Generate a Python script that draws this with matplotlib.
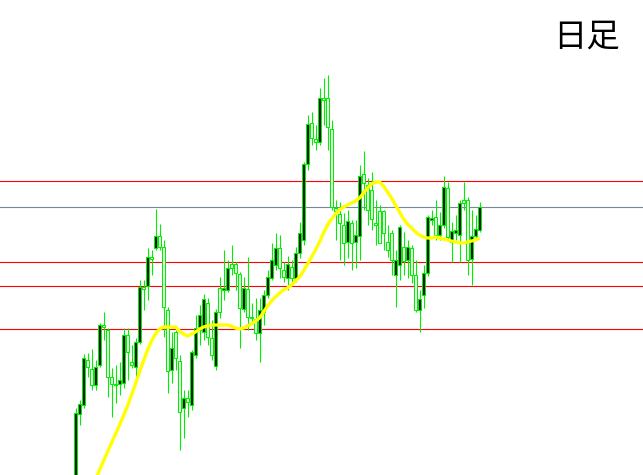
import matplotlib.pyplot as plt

# daily candles, price units (chart scale 0..475)
opens = [-15, 61, 70, 115, 106, 90, 110, 150, 145, 98, 91, 91, 92, 140, 113, 108,
         133, 188, 189, 218, 227, 239, 228, 165, 105, 143, 114, 67, 77, 70, 120, 145,
         143, 172, 137, 109, 187, 185, 185, 211, 211, 201, 166, 186, 158, 156, 142, 163,
         180, 197, 210, 227, 205, 197, 208, 197, 222, 235, 311, 352, 336, 333, 377, 377,
         346, 267, 261, 250, 233, 252, 233, 239, 301, 290, 285, 252, 264, 264, 233, 242,
         200, 210, 228, 215, 227, 200, 165, 180, 202, 255, 258, 240, 250, 287, 233, 242,
         240, 275, 275, 216, 239, 245]
highs = [67, 75, 121, 122, 126, 115, 152, 163, 147, 107, 110, 113, 147, 147, 130, 137,
         195, 195, 227, 225, 266, 251, 235, 168, 143, 145, 120, 85, 85, 125, 160, 170,
         181, 177, 155, 166, 198, 225, 215, 230, 213, 203, 198, 218, 172, 177, 177, 185,
         205, 232, 242, 240, 213, 219, 215, 228, 253, 313, 360, 363, 350, 387, 397, 400,
         355, 275, 273, 262, 265, 255, 255, 310, 324, 297, 303, 275, 270, 265, 250, 245,
         225, 250, 243, 235, 230, 215, 185, 210, 260, 265, 275, 263, 299, 293, 253, 260,
         275, 293, 278, 265, 260, 273]
lows = [-20, 50, 67, 98, 85, 85, 108, 135, 78, 58, 72, 80, 87, 95, 107, 98,
        131, 165, 175, 200, 225, 225, 138, 82, 92, 105, 25, 37, 58, 65, 117, 130,
        135, 130, 115, 105, 157, 175, 183, 200, 185, 127, 163, 145, 153, 135, 113, 150,
        177, 195, 205, 197, 193, 185, 190, 193, 217, 230, 305, 330, 325, 330, 350, 325,
        265, 235, 215, 210, 217, 205, 207, 215, 265, 250, 245, 230, 235, 225, 218, 200,
        168, 195, 200, 197, 192, 163, 143, 167, 199, 250, 235, 235, 247, 235, 213, 235,
        213, 265, 200, 190, 235, 243]
closes = [62, 71, 117, 108, 90, 108, 150, 148, 98, 91, 90, 95, 140, 123, 110, 133,
          188, 186, 218, 216, 239, 228, 168, 104, 127, 117, 63, 77, 73, 123, 147, 160,
          176, 138, 120, 163, 163, 187, 207, 207, 202, 167, 187, 158, 157, 142, 165, 180,
          198, 215, 227, 207, 198, 211, 197, 222, 242, 311, 351, 337, 333, 377, 375, 348,
          268, 264, 252, 232, 254, 232, 240, 299, 292, 265, 256, 250, 232, 242, 225, 215,
          215, 248, 214, 228, 200, 165, 176, 202, 258, 257, 240, 250, 288, 238, 244, 245,
          272, 272, 215, 239, 246, 268]

# yellow moving average, starts at candle 5
ma_start = 5
ma_values = [-5, 5, 14, 23, 32, 41, 50, 59, 69, 80, 91, 103, 114, 125, 134, 141,
             146, 148, 148, 148, 148, 144, 141, 139, 141, 143, 146, 148, 149, 150, 150, 150,
             150, 150, 149, 147, 146, 147, 149, 151, 154, 157, 163, 169, 174, 178, 182, 185,
             187, 190, 194, 198, 204, 211, 218, 225, 233, 242, 250, 256, 261, 265, 268, 270,
             272, 274, 277, 282, 287, 291, 293, 293, 289, 283, 277, 270, 263, 256, 251, 247,
             243, 240, 238, 237, 237, 238, 237, 236, 235, 234, 233, 232, 232, 233, 234, 235,
             237]

levels = [294, 268, 213, 189, 146]
level_colors = ['red', '#778899', 'red', 'red', 'red']

fig = plt.figure(figsize=(6.43, 4.75), dpi=100)
ax = fig.add_axes([0, 0, 1, 1])
ax.set_xlim(-75.5 / 4, (643 - 75.5) / 4)
ax.set_ylim(0, 475)
ax.axis('off')

for lv, c in zip(levels, level_colors):
    ax.axhline(lv, color=c, lw=0.8, zorder=1)

n = len(opens)
x = list(range(n))
ax.vlines(x, lows, highs, color='#00ee00', lw=0.8, zorder=2)
bottoms = [min(o, c) for o, c in zip(opens, closes)]
heights = [max(abs(c - o), 0.8) for o, c in zip(opens, closes)]
fills = ['black' if c >= o else 'white' for o, c in zip(opens, closes)]
ax.bar(x, heights, bottom=bottoms, width=0.72, color=fills,
       edgecolor='#00ee00', linewidth=0.8, zorder=3)

ma_x = list(range(ma_start, ma_start + len(ma_values)))
ax.plot(ma_x, ma_values, color='#ffff00', lw=2.4, zorder=4, solid_capstyle='butt')

fig.text(620 / 643, 1 - 37 / 475, '日足', ha='right', va='center',
         fontsize=24, family=['Noto Sans CJK JP', 'DejaVu Sans'])

fig.savefig('out.png', dpi=100)
